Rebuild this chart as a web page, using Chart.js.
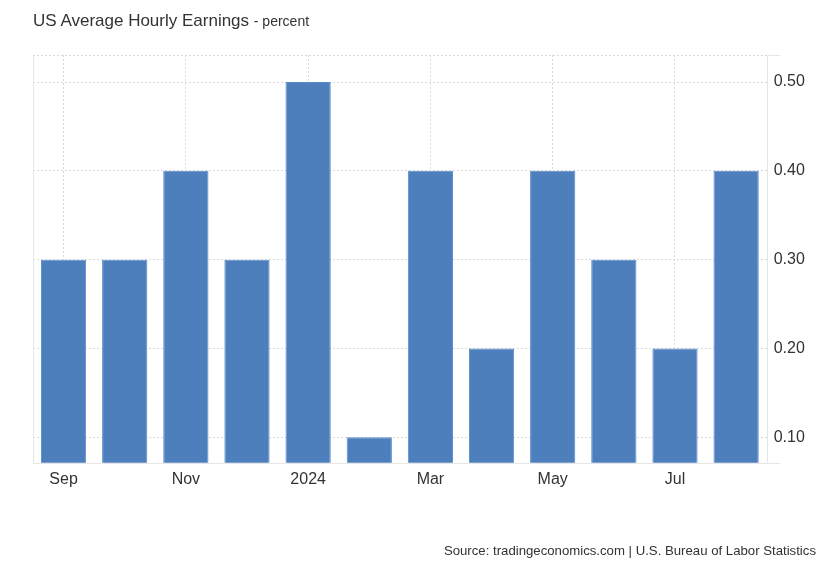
<!DOCTYPE html>
<html>
<head>
<meta charset="utf-8">
<script src="https://cdn.jsdelivr.net/npm/chart.js@4"></script>
<style>
  html, body { margin: 0; padding: 0; background: #fff; }
  #wrap { position: relative; width: 830px; height: 567px; }
  #title { position: absolute; left: 33px; top: 11px; font-family: Arial, "Liberation Sans", sans-serif; font-size: 17px; color: #333; white-space: nowrap; }
  #title span { font-size: 14px; }
  #source { position: absolute; right: 14px; top: 543px; font-family: Arial, "Liberation Sans", sans-serif; font-size: 13.2px; color: #333; white-space: nowrap; }
  canvas { position: absolute; left: 0; top: 0; }
</style>
</head>
<body>
<div id="wrap">
  <canvas id="c" width="830" height="567"></canvas>
  <div id="title">US Average Hourly Earnings <span>- percent</span></div>
  <div id="source">Source: tradingeconomics.com | U.S. Bureau of Labor Statistics</div>
</div>
<script>
const categories = ['Sep','Oct','Nov','Dec','2024','Feb','Mar','Apr','May','Jun','Jul','Aug'];
const earnings = [0.3, 0.3, 0.4, 0.3, 0.5, 0.1, 0.4, 0.2, 0.4, 0.3, 0.2, 0.4];
const yTicks = [0.1, 0.2, 0.3, 0.4, 0.5];
const yMin = 0.0714;
const yMax = 0.5304;

const frame = {
  id: 'frame',
  afterDraw(chart) {
    const ctx = chart.ctx, a = chart.chartArea;
    ctx.save();
    ctx.strokeStyle = '#e6e6e6';
    ctx.lineWidth = 1;
    ctx.setLineDash([]);
    ctx.beginPath();
    ctx.moveTo(Math.round(a.left) + 0.5, a.top);
    ctx.lineTo(Math.round(a.left) + 0.5, a.bottom);
    ctx.moveTo(Math.round(a.right) + 0.5, a.top);
    ctx.lineTo(Math.round(a.right) + 0.5, a.bottom);
    ctx.moveTo(a.left, Math.round(a.bottom) + 0.5);
    ctx.lineTo(a.right + 13, Math.round(a.bottom) + 0.5);
    ctx.moveTo(a.right, Math.round(a.top) + 0.5);
    ctx.lineTo(a.right + 13, Math.round(a.top) + 0.5);
    ctx.stroke();
    ctx.strokeStyle = '#d9d9d9';
    ctx.setLineDash([2, 2]);
    ctx.beginPath();
    ctx.moveTo(a.left, Math.round(a.top) + 0.5);
    ctx.lineTo(a.right, Math.round(a.top) + 0.5);
    ctx.stroke();
    ctx.restore();
  }
};

new Chart(document.getElementById('c'), {
  type: 'bar',
  data: {
    labels: categories,
    datasets: [{
      data: earnings,
      backgroundColor: '#4d7fbd',
      borderColor: '#5a8bca',
      borderWidth: 1,
      barPercentage: 0.74,
      categoryPercentage: 1.0
    }]
  },
  plugins: [frame],
  options: {
    responsive: false,
    animation: false,
    layout: { padding: { left: 33, top: 55, right: 0, bottom: 0 } },
    plugins: { legend: { display: false }, tooltip: { enabled: false } },
    scales: {
      x: {
        offset: true,
        grid: {
          offset: false,
          drawTicks: false,
          color: (c) => (c.index % 2 === 0 ? '#d9d9d9' : 'rgba(0,0,0,0)'),
          lineWidth: 1
        },
        border: { display: false, dash: [2, 2] },
        ticks: {
          autoSkip: false,
          maxRotation: 0,
          padding: 7,
          color: '#333',
          font: { family: 'Arial, "Liberation Sans", sans-serif', size: 16 },
          callback: (v, i) => (i % 2 === 0 ? categories[i] : '')
        },
        afterFit: (s) => { s.height = 104.3; }
      },
      y: {
        position: 'right',
        min: yMin,
        max: yMax,
        afterBuildTicks: (s) => { s.ticks = yTicks.map(v => ({ value: v })); },
        grid: { drawTicks: false, color: '#d9d9d9', lineWidth: 1 },
        border: { display: false, dash: [2, 2] },
        ticks: {
          padding: 7,
          color: '#333',
          font: { family: 'Arial, "Liberation Sans", sans-serif', size: 16 },
          callback: (v) => Number(v).toFixed(2)
        },
        afterFit: (s) => { s.width = 63.3; }
      }
    }
  }
});
</script>
</body>
</html>
